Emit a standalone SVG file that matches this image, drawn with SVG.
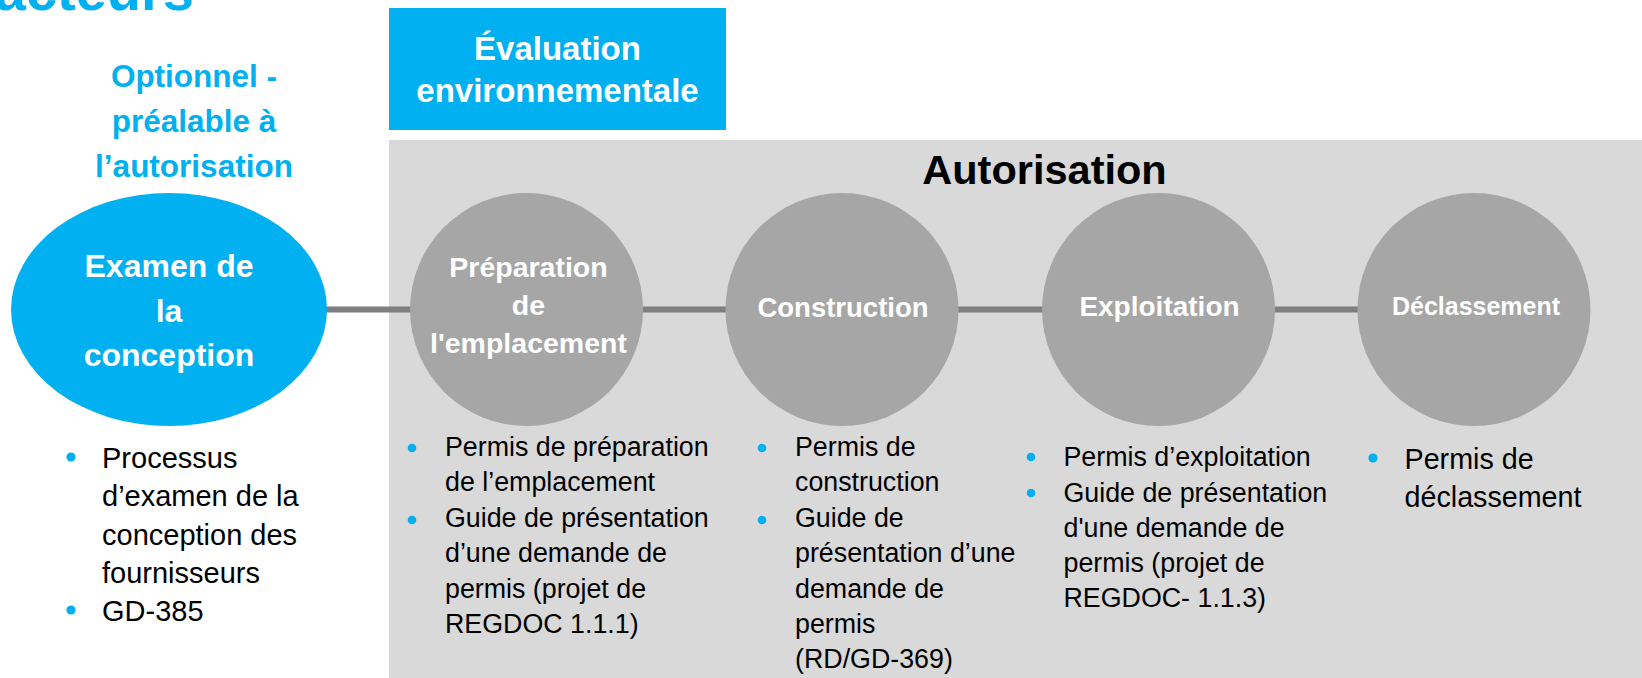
<svg xmlns="http://www.w3.org/2000/svg" width="1642" height="678" viewBox="0 0 1642 678">
<style>
  text { font-family: "Liberation Sans", Arial, sans-serif; }
  .blue { fill: #00B0F0; }
  .panel { fill: #D9D9D9; }
  .stage { fill: #A6A6A6; }
  .lbl { fill: #FFFFFF; font-weight: bold; text-anchor: middle; }
  .bluetxt { fill: #00B0F0; font-weight: bold; text-anchor: middle; }
  .head { fill: #000000; font-weight: bold; text-anchor: middle; }
  .body { fill: #000000; }
  .dot { fill: #00B0F0; }
  .conn { stroke: #7F7F7F; stroke-width: 6; fill: none; }
</style>

<g id="title-fragment">
  <text x="194" y="10" class="bluetxt" style="text-anchor:end" font-size="56">réacteurs</text>
</g>

<g id="evaluation-environnementale">
  <rect x="389" y="8" width="337" height="122" class="blue"/>
  <text class="lbl" font-size="33"><tspan x="557.5" y="60">Évaluation</tspan><tspan x="557.5" y="102">environnementale</tspan></text>
</g>

<g id="autorisation-panel">
  <rect x="389" y="140" width="1253" height="538" class="panel"/>
  <text x="1044.5" y="184" class="head" font-size="41.5">Autorisation</text>
</g>

<g id="optionnel-label">
  <text class="bluetxt" font-size="31.5"><tspan x="194" y="87">Optionnel -</tspan><tspan x="194" y="132">préalable à</tspan><tspan x="194" y="177">l’autorisation</tspan></text>
</g>

<g id="connectors">
  <line x1="326" y1="309.5" x2="411" y2="309.5" class="conn"/>
  <line x1="642" y1="309.5" x2="726" y2="309.5" class="conn"/>
  <line x1="958" y1="309.5" x2="1043" y2="309.5" class="conn"/>
  <line x1="1274" y1="309.5" x2="1358" y2="309.5" class="conn"/>
</g>

<g id="examen-conception">
  <ellipse cx="169" cy="309.5" rx="158" ry="116.5" class="blue"/>
  <text class="lbl" font-size="32"><tspan x="169" y="277">Examen de</tspan><tspan x="169" y="321.5">la</tspan><tspan x="169" y="366">conception</tspan></text>
</g>

<g id="preparation-emplacement">
  <circle cx="526.5" cy="309.5" r="116.5" class="stage"/>
  <text class="lbl" font-size="28.5"><tspan x="528.5" y="276.5">Préparation</tspan><tspan x="528.5" y="314.5">de</tspan><tspan x="528.5" y="352.5">l'emplacement</tspan></text>
</g>

<g id="construction">
  <circle cx="842" cy="309.5" r="116.5" class="stage"/>
  <text x="843" y="317" class="lbl" font-size="27.5">Construction</text>
</g>

<g id="exploitation">
  <circle cx="1158.5" cy="309.5" r="116.5" class="stage"/>
  <text x="1159.5" y="316" class="lbl" font-size="28">Exploitation</text>
</g>

<g id="declassement">
  <circle cx="1474" cy="309.5" r="116.5" class="stage"/>
  <text x="1476" y="315" class="lbl" font-size="25">Déclassement</text>
</g>

<g id="liste-conception">
  <circle cx="71" cy="457" r="4.6" class="dot"/>
  <circle cx="71" cy="610" r="4.6" class="dot"/>
  <text class="body" font-size="29"><tspan x="102" y="468">Processus</tspan><tspan x="102" y="506">d’examen de la</tspan><tspan x="102" y="545">conception des</tspan><tspan x="102" y="583">fournisseurs</tspan><tspan x="102" y="621">GD-385</tspan></text>
</g>

<g id="liste-preparation">
  <circle cx="412" cy="448" r="4.3" class="dot"/>
  <circle cx="412" cy="520" r="4.3" class="dot"/>
  <text class="body" font-size="26.8"><tspan x="445" y="456">Permis de préparation</tspan><tspan x="445" y="491.4">de l’emplacement</tspan><tspan x="445" y="526.8">Guide de présentation</tspan><tspan x="445" y="562.2">d’une demande de</tspan><tspan x="445" y="597.6">permis (projet de</tspan><tspan x="445" y="633">REGDOC 1.1.1)</tspan></text>
</g>

<g id="liste-construction">
  <circle cx="762" cy="448" r="4.3" class="dot"/>
  <circle cx="762" cy="520" r="4.3" class="dot"/>
  <text class="body" font-size="26.8"><tspan x="795" y="456">Permis de</tspan><tspan x="795" y="491.4">construction</tspan><tspan x="795" y="526.8">Guide de</tspan><tspan x="795" y="562.2">présentation d’une</tspan><tspan x="795" y="597.6">demande de</tspan><tspan x="795" y="633">permis</tspan><tspan x="795" y="668.4">(RD/GD-369)</tspan></text>
</g>

<g id="liste-exploitation">
  <circle cx="1031" cy="457" r="4.3" class="dot"/>
  <circle cx="1031" cy="493" r="4.3" class="dot"/>
  <text class="body" font-size="26.8"><tspan x="1063.5" y="466">Permis d’exploitation</tspan><tspan x="1063.5" y="502">Guide de présentation</tspan><tspan x="1063.5" y="537">d'une demande de</tspan><tspan x="1063.5" y="572">permis (projet de</tspan><tspan x="1063.5" y="607">REGDOC- 1.1.3)</tspan></text>
</g>

<g id="liste-declassement">
  <circle cx="1373" cy="458" r="4.6" class="dot"/>
  <text class="body" font-size="28.7"><tspan x="1404.5" y="469">Permis de</tspan><tspan x="1404.5" y="507">déclassement</tspan></text>
</g>
</svg>
